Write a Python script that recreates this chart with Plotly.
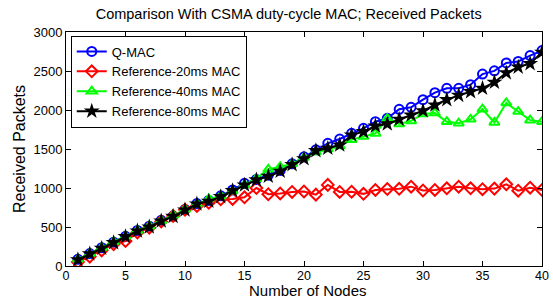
import plotly.graph_objects as go

nodes = list(range(1, 41))
qmac = [85,160,235,305,380,455,510,585,640,725,800,840,900,975,1060,1110,1165,1225,1310,1400,
        1490,1573,1628,1701,1765,1850,1893,2009,2034,2132,2222,2278,2278,2325,2460,2502,2603,2622,2698,2762]
ref20 = [50,120,200,280,320,430,490,570,640,720,770,810,855,860,880,1000,920,930,950,955,
         915,1040,950,952,925,975,987,990,1017,968,975,996,1017,996,985,992,1047,966,1004,975]
ref40 = [85,160,235,310,380,455,510,580,650,725,795,860,895,960,1040,1120,1240,1270,1310,1390,
         1460,1500,1540,1620,1660,1700,1890,1820,1860,1950,1960,1850,1830,1880,2010,1840,2090,1980,1870,1850]
ref80 = [80,155,227,299,376,449,500,577,635,718,795,830,889,966,1038,1103,1150,1215,1300,1375,
         1478,1509,1551,1679,1722,1795,1821,1880,1936,1990,2064,2132,2188,2235,2278,2356,2476,2550,2594,2740]

names = ["Q-MAC", "Reference-20ms MAC", "Reference-40ms MAC", "Reference-80ms MAC"]
colors = ["#0000ff", "#ff0000", "#00ff00", "#000000"]
symbols = ["circle-open", "diamond-open", "triangle-up-open", "star"]
series = [qmac, ref20, ref40, ref80]

fig = go.Figure()
for name, col, sym, ys in zip(names, colors, symbols, series):
    fig.add_trace(go.Scatter(
        x=nodes, y=ys, name=name, mode="lines+markers",
        line=dict(color=col, width=2),
        marker=dict(symbol=sym, size=9 if sym != "star" else 12, color=col,
                    line=dict(color=col, width=2 if sym != "star" else 0)),
    ))

axis_common = dict(showline=True, linecolor="black", linewidth=1, mirror="ticks",
                   ticks="inside", ticklen=5, tickcolor="black", showgrid=False,
                   zeroline=False, automargin=False)

fig.update_layout(
    width=553, height=300,
    margin=dict(l=66, r=11, t=32, b=34),
    paper_bgcolor="white", plot_bgcolor="white",
    font=dict(family="Liberation Sans, Arial, sans-serif", color="black", size=13),
    title=dict(text="Comparison With CSMA duty-cycle MAC; Received Packets",
               x=0.522, xanchor="center", y=0.955, yanchor="middle",
               font=dict(size=14.5, color="black")),
    xaxis=dict(range=[0, 40], tickvals=[0, 5, 10, 15, 20, 25, 30, 35, 40],
               tickfont=dict(size=12.5, color="black"), ticklabelstandoff=-2,
               **axis_common),
    yaxis=dict(range=[0, 3000], tickvals=[0, 500, 1000, 1500, 2000, 2500, 3000],
               tickfont=dict(size=13, color="black"), **axis_common),
    legend=dict(x=0.01, y=0.985, xanchor="left", yanchor="top",
                bgcolor="white", bordercolor="black", borderwidth=1,
                font=dict(size=13), tracegroupgap=0, itemwidth=30),
    showlegend=True,
    annotations=[
        dict(text="Number of Nodes", xref="paper", yref="paper", x=0.508, y=-0.105,
             xanchor="center", yanchor="middle", showarrow=False, font=dict(size=15)),
        dict(text="Received Packets", xref="paper", yref="paper", x=-0.0987, y=0.5,
             xanchor="center", yanchor="middle", textangle=-90, showarrow=False,
             font=dict(size=16)),
    ],
)

fig.write_html("out.html", config={"displayModeBar": False},
               post_script="document.body.style.margin='0';document.body.style.overflow='hidden';")
